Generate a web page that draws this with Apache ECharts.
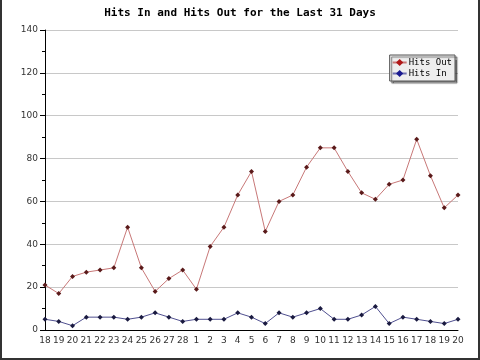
<!DOCTYPE html>
<html><head><meta charset="utf-8">
<script src="https://cdn.jsdelivr.net/npm/echarts@6/dist/echarts.min.js"></script>
<style>
html,body{margin:0;padding:0;background:#fff;}
#wrap{position:relative;width:480px;height:360px;}
#c{width:480px;height:360px;}
#frame{position:absolute;left:0;top:0;width:480px;height:360px;box-sizing:border-box;border-left:2px solid #333;border-right:2px solid #333;border-bottom:2px solid #333;pointer-events:none;}
</style></head><body>
<div id="wrap"><div id="c"></div><div id="frame"></div></div>
<script>
const categories = ['18','19','20','21','22','23','24','25','26','27','28','1','2','3','4','5','6','7','8','9','10','11','12','13','14','15','16','17','18','19','20'];
const hitsOut = [21,17,25,27,28,29,48,29,18,24,28,19,39,48,63,74,46,60,63,76,85,85,74,64,61,68,70,89,72,57,63];
const hitsIn = [5,4,2,6,6,6,5,6,8,6,4,5,5,5,8,6,3,8,6,8,10,5,5,7,11,3,6,5,4,3,5];

const chart = echarts.init(document.getElementById('c'), null, {renderer:'canvas'});
chart.setOption({
  animation:false,
  backgroundColor:'#fff',
  title:{text:'Hits In and Hits Out for the Last 31 Days',left:'center',top:3,
    textStyle:{fontFamily:'DejaVu Sans Mono',fontWeight:'bold',fontSize:11,color:'#000'}},
  legend:{orient:'vertical',right:25,top:55,backgroundColor:'#eeeeee',borderColor:'#555',borderWidth:1,
    padding:[3,3,3,2],itemGap:2,itemWidth:14,itemHeight:9,
    shadowColor:'rgba(0,0,0,0.5)',shadowOffsetX:2,shadowOffsetY:2,shadowBlur:1,
    textStyle:{fontFamily:'DejaVu Sans Mono',fontSize:9,color:'#000',padding:[0,0,0,-3]},
    data:[
      {name:'Hits Out',itemStyle:{color:'#b01818'},lineStyle:{color:'#c87878'}},
      {name:'Hits In',itemStyle:{color:'#1a1a90'},lineStyle:{color:'#7070b0'}}]},
  grid:{left:45,right:22,top:30,bottom:30,containLabel:false},
  xAxis:{type:'category',data:categories,boundaryGap:false,
    axisLine:{lineStyle:{color:'#000'}},axisTick:{show:false},
    axisLabel:{color:'#333',fontFamily:'DejaVu Sans',fontSize:9,margin:6,interval:0},
    splitLine:{show:false}},
  yAxis:{type:'value',min:0,max:140,interval:20,
    axisLine:{show:true,lineStyle:{color:'#000'}},
    axisTick:{show:true,length:5,lineStyle:{color:'#000'}},
    minorTick:{show:true,splitNumber:2,length:3,lineStyle:{color:'#000'}},
    axisLabel:{color:'#333',fontFamily:'DejaVu Sans',fontSize:9,margin:7},
    splitLine:{show:true,lineStyle:{color:'#c8c8c8',width:1}}},
  series:[
    {name:'Hits Out',type:'line',data:hitsOut,symbol:'diamond',symbolSize:5,
      lineStyle:{color:'#c87878',width:1},itemStyle:{color:'#5a1a1a',borderWidth:0},
      emphasis:{disabled:true}},
    {name:'Hits In',type:'line',data:hitsIn,symbol:'diamond',symbolSize:5,
      lineStyle:{color:'#505090',width:1},itemStyle:{color:'#1a1a40',borderWidth:0},
      emphasis:{disabled:true}}
  ]
});
</script></body></html>
